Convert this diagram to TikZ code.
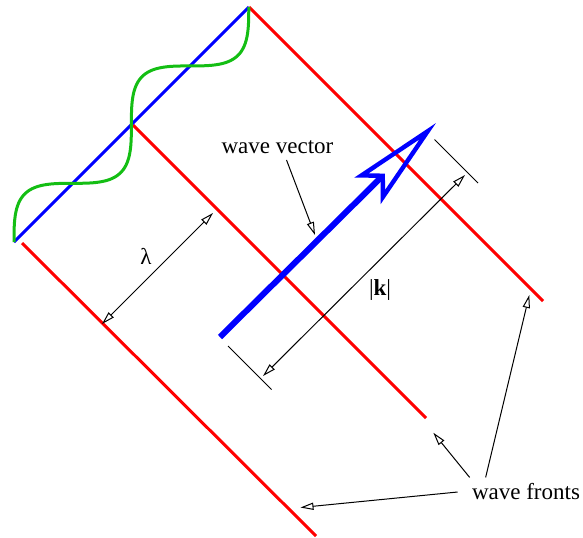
\documentclass[tikz,border=0pt]{standalone}
\usepackage{fontspec}
\setmainfont{Liberation Serif}
\usetikzlibrary{arrows.meta}
\definecolor{wavegreen}{RGB}{20,190,20}

\begin{document}
\begin{tikzpicture}[
  x=0.5pt, y=-0.5pt,
  front/.style={draw=red, line width=1.5pt},
  pointer/.style={-{Triangle[open, length=6.5pt, width=3.6pt]}, line width=0.5pt},
  dim/.style={{Triangle[open, length=6.5pt, width=3.6pt]}-{Triangle[open, length=6.5pt, width=3.6pt]}, line width=0.5pt},
  txt/.style={inner sep=1pt, font=\fontsize{11.5}{13.8}\selectfont}
]
\useasboundingbox (0,0) rectangle (583,537);

\coordinate (b0) at (14,242);
\coordinate (f1a) at (249,7);   \coordinate (f1b) at (543,301);
\coordinate (f2a) at (133,125); \coordinate (f2b) at (426,418);
\coordinate (f3a) at (22,243);  \coordinate (f3b) at (316,536);
\coordinate (k0) at (220,337);  \coordinate (k1) at (436,123);
\coordinate (e0a) at (228,346); \coordinate (e0b) at (271.5,389.5);
\coordinate (e1a) at (434.5,139.5); \coordinate (e1b) at (478,183);
\coordinate (d0) at (263,376);  \coordinate (d1) at (465,175);
\coordinate (l0) at (102,324);  \coordinate (l1) at (213,213);
\coordinate (wvtip) at (315,235);
\coordinate (wt1) at (300.5,507.5);
\coordinate (wt2) at (433.3,432.7);
\coordinate (wt3) at (529.3,295);

\node[txt] (wv) at (277.5,147) {wave vector};
\node[txt] (lam) at (146,256) {λ};
\node[txt] (kabs) at (380,290) {|\textbf{k}|};
\node[txt] (wf) at (526,492) {wave fronts};

\draw[front] (f1a) -- (f1b);
\draw[front] (f2a) -- (f2b);
\draw[front] (f3a) -- (f3b);
\draw[blue, line width=1.5pt] (b0) -- (f1a);
\begin{scope}[shift={(b0)}, rotate=45]
  \draw[wavegreen, line width=1.5pt] plot[domain=0:332, samples=120, smooth] (\x, {-26.4*sin(2.16867*\x)});
\end{scope}
\draw[blue, line width=3pt, -{Stealth[open, length=48pt, width=18.5pt, inset=9pt, line width=2.2pt]}] (k0) -- (k1);

\draw[line width=0.5pt] (e0a) -- (e0b);
\draw[line width=0.5pt] (e1a) -- (e1b);
\draw[dim] (d0) -- (d1);
\draw[dim] (l0) -- (l1);

\draw[pointer] ([xshift=4.5pt, yshift=-2pt]wv.south) -- (wvtip);
\draw[pointer] ([xshift=-6pt]wf.west) -- (wt1);
\draw[pointer] ([yshift=2pt]wf.north west) -- (wt2);
\draw[pointer] ([xshift=8pt, yshift=2pt]wf.north west) -- (wt3);
\end{tikzpicture}
\end{document}
